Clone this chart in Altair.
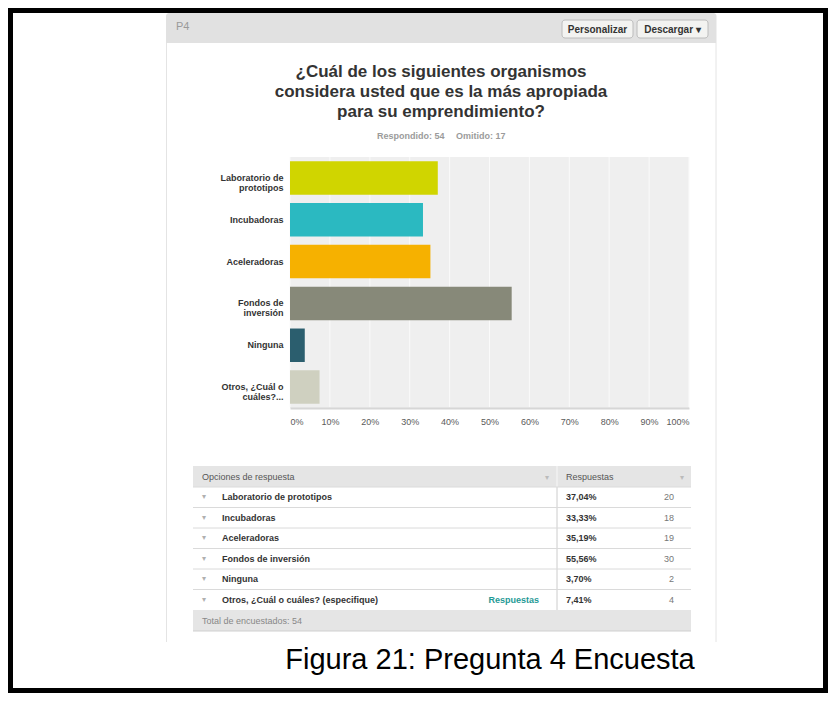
import altair as alt
import pandas as pd

# ---------------- data ----------------
categories = ["Laboratorio de|prototipos", "Incubadoras", "Aceleradoras",
              "Fondos de|inversión", "Ninguna", "Otros, ¿Cuál o|cuáles?..."]
table_labels = ["Laboratorio de prototipos", "Incubadoras", "Aceleradoras",
                "Fondos de inversión", "Ninguna", "Otros, ¿Cuál o cuáles? (especifique)"]
shares = [0.3704, 0.3333, 0.3519, 0.5556, 0.0370, 0.0741]
percent_labels = ["37,04%", "33,33%", "35,19%", "55,56%", "3,70%", "7,41%"]
counts = [20, 18, 19, 30, 2, 4]
link_labels = ["", "", "", "", "", "Respuestas"]
bar_colors = ["#d0d500", "#2bb9c1", "#f6b100", "#878979", "#2b5e6e", "#cfd0c0"]
x_ticks = [0.0, 0.1, 0.2, 0.3, 0.4, 0.5, 0.6, 0.7, 0.8, 0.9, 1.0]

title_lines = ["¿Cuál de los siguientes organismos",
               "considera usted que es la más apropiada",
               "para su emprendimiento?"]
subtitle_answered = "Respondido: 54"
subtitle_skipped = "Omitido: 17"
question_id = "P4"
button_labels = ["Personalizar", "Descargar ▾"]
table_headers = ["Opciones de respuesta", "Respuestas"]
footer_text = "Total de encuestados: 54"
caption = "Figura 21: Pregunta 4 Encuesta"

bars_df = pd.DataFrame({"cat": categories, "share": shares})
table_df = pd.DataFrame({"opt": table_labels, "pct": percent_labels,
                         "n": counts, "link": link_labels, "arrow": ["▾"] * 6})
grid_df = pd.DataFrame({"share": x_ticks})
one = pd.DataFrame({"k": [0]})

FONT = "Liberation Sans"
OX, OY = 290, 157          # page position of plot-area origin
W, H = 399, 251


def px(v):
    return alt.value(v - OX)


def py(v):
    return alt.value(v - OY)


def rect(x1, y1, x2, y2, **kw):
    return alt.Chart(one).mark_rect(**kw).encode(
        x=px(x1), x2=px(x2), y=py(y1), y2=py(y2))


def hrule(x1, x2, y, **kw):
    return alt.Chart(one).mark_rule(**kw).encode(x=px(x1), x2=px(x2), y=py(y))


def vrule(x, y1, y2, **kw):
    return alt.Chart(one).mark_rule(**kw).encode(x=px(x), y=py(y1), y2=py(y2))


def label(txt, x, y, **kw):
    base = dict(font=FONT, baseline="middle")
    base.update(kw)
    return alt.Chart(one).mark_text(**base).encode(
        x=px(x), y=py(y), text=alt.value(txt))


# ---------------- frame & panel ----------------
border = rect(10.5, 10.5, 825.5, 690.5, fillOpacity=0, stroke="black", strokeWidth=5)
panel_l = vrule(166.5, 43, 642, color="#e4e4e4", strokeWidth=1)
panel_r = vrule(716, 43, 642, color="#e4e4e4", strokeWidth=1)
header = rect(166, 13, 716.5, 43, fill="#e1e1e1", cornerRadiusTopLeft=3, cornerRadiusTopRight=3)
p4 = label(question_id, 176, 27, fontSize=11, color="#9a9a9a", align="left")
btn1 = rect(562, 20, 633, 38, fill="#f3f3f1", stroke="#bcbcbc", strokeWidth=1, cornerRadius=3)
btn2 = rect(637, 20, 708, 38, fill="#f3f3f1", stroke="#bcbcbc", strokeWidth=1, cornerRadius=3)
btn1_t = label(button_labels[0], 597.5, 29.5, fontSize=10, fontWeight="bold", color="#333", align="center")
btn2_t = label(button_labels[1], 672.5, 29.5, fontSize=10, fontWeight="bold", color="#333", align="center")

title = alt.Chart(one).mark_text(font=FONT, fontSize=17, fontWeight="bold", color="#333333",
                                 align="center", baseline="alphabetic", lineHeight=20).encode(
    x=px(441), y=py(77), text=alt.value(title_lines))
sub1 = label(subtitle_answered, 377, 135.5, fontSize=9, fontWeight="bold", color="#9b9b9b", align="left")
sub2 = label(subtitle_skipped, 456, 135.5, fontSize=9, fontWeight="bold", color="#9b9b9b", align="left")

# ---------------- bar chart ----------------
x_axis = alt.Axis(values=x_ticks, format=".0%", labelFlush=True, ticks=False,
                  grid=False, domain=True, domainColor="#d6d6d6", domainWidth=2,
                  labelFont=FONT, labelFontSize=9, labelColor="#5a5a5a",
                  labelPadding=9, labelOverlap=False, title=None, zindex=1)
x_scale = alt.Scale(domain=[0, 1])

grid = alt.Chart(grid_df).mark_rule(color="#fafafa", strokeWidth=1).encode(
    x=alt.X("share:Q", scale=x_scale, axis=x_axis),
    y=alt.value(0), y2=alt.value(H - 1))

bars = alt.Chart(bars_df).mark_bar().encode(
    x=alt.X("share:Q", scale=x_scale, axis=x_axis),
    y=alt.Y("cat:N", sort=categories,
            scale=alt.Scale(domain=categories, paddingInner=0.2, paddingOuter=0.1),
            axis=alt.Axis(labelExpr="split(datum.value, '|')", labelFont=FONT,
                          labelFontSize=9, labelFontWeight="bold", labelColor="#333333",
                          labelPadding=7, labelLineHeight=10, labelLimit=200,
                          ticks=False, domain=False, grid=False, title=None)),
    color=alt.Color("cat:N", scale=alt.Scale(domain=categories, range=bar_colors), legend=None),
)

# ---------------- table ----------------
tscale = alt.Scale(domain=table_labels, range=[330, 453], paddingInner=0, paddingOuter=0)
ty = alt.Y("opt:N", sort=table_labels, scale=tscale, axis=None)
ty0 = alt.Y("opt:N", sort=table_labels, scale=tscale, axis=None, bandPosition=0)

t_head = rect(193, 466, 691, 487, fill="#e5e5e5")
t_foot = rect(193, 610, 691, 631, fill="#e5e5e5")
t_foot_line = hrule(193, 691, 631, color="#cfcfcf", strokeWidth=1)
t_head_div = vrule(557, 466, 487, color="#f7f7f7", strokeWidth=1)
t_body_div = vrule(557, 487, 610, color="#cccccc", strokeWidth=1)
t_rows = alt.Chart(table_df).mark_rule(color="#dadada", strokeWidth=1).encode(
    y=ty0, x=px(193), x2=px(691))
t_h1 = label(table_headers[0], 202, 477, fontSize=9, color="#555555", align="left")
t_h2 = label(table_headers[1], 566, 477, fontSize=9, color="#555555", align="left")
t_ha1 = label("▾", 547, 478, fontSize=8, color="#bbbbbb", align="center")
t_ha2 = label("▾", 682, 478, fontSize=8, color="#bbbbbb", align="center")

tb = alt.Chart(table_df)
t_arrow = tb.mark_text(font=FONT, fontSize=8, color="#b0b0b0", align="center", baseline="middle").encode(
    y=ty, x=px(204), text="arrow:N")
t_label = tb.mark_text(font=FONT, fontSize=9, fontWeight="bold", color="#333333", align="left",
                       baseline="middle").encode(y=ty, x=px(222), text="opt:N")
t_link = tb.mark_text(font=FONT, fontSize=9, fontWeight="bold", color="#1f9a96", align="right",
                      baseline="middle").encode(y=ty, x=px(539), text="link:N")
t_pct = tb.mark_text(font=FONT, fontSize=9, fontWeight="bold", color="#333333", align="left",
                     baseline="middle").encode(y=ty, x=px(566), text="pct:N")
t_n = tb.mark_text(font=FONT, fontSize=9, color="#777777", align="right",
                   baseline="middle").encode(y=ty, x=px(674), text="n:Q")
t_total = label(footer_text, 202, 620.5, fontSize=9, color="#888888", align="left")

cap = alt.Chart(one).mark_text(font=FONT, fontSize=29, color="#000000", align="center",
                               baseline="alphabetic").encode(
    x=px(490), y=py(669), text=alt.value(caption))

chart = alt.layer(
    border, panel_l, panel_r, header, p4, btn1, btn2, btn1_t, btn2_t, title, sub1, sub2,
    grid, bars,
    t_head, t_foot, t_foot_line, t_head_div, t_body_div, t_rows, t_h1, t_h2, t_ha1, t_ha2,
    t_arrow, t_label, t_link, t_pct, t_n, t_total, cap,
).resolve_scale(y="independent").properties(
    width=W, height=H,
    autosize=alt.AutoSizeParams(type="none"),
    padding={"left": 282, "top": 149, "right": 139, "bottom": 285},
    background="white",
).configure_view(fill="#efefef", strokeWidth=0)

chart.save("out.html", embed_options={"renderer": "svg", "actions": False})
